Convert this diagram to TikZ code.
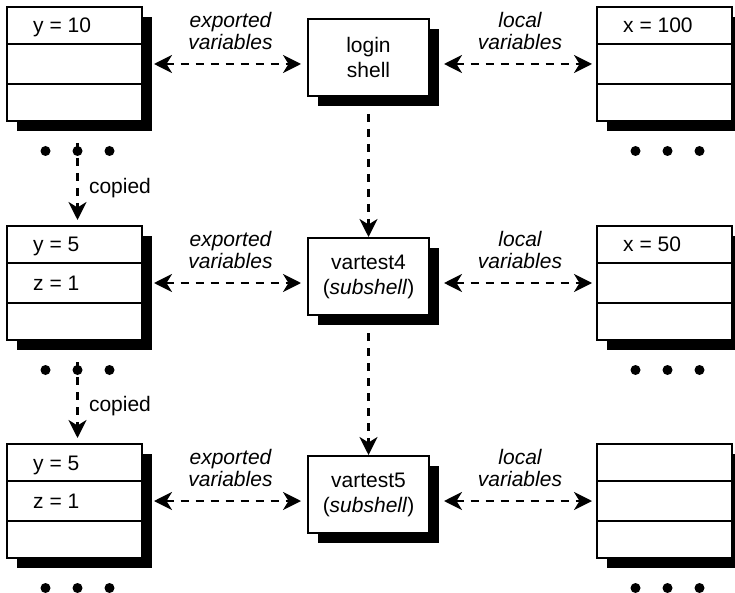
\documentclass[tikz,border=0pt]{standalone}
\usepackage{fontspec}
\setmainfont{Liberation Sans}
\usetikzlibrary{arrows.meta,shadows}

\tikzset{
  stackbox/.style={draw, line width=2pt, fill=white, inner sep=0pt,
    minimum width=135pt, minimum height=114pt,
    drop shadow={shadow xshift=10pt, shadow yshift=-10pt, fill=black, opacity=1}},
  shellbox/.style={stackbox, minimum width=121pt, minimum height=77pt, align=center,
    font=\fontsize{21}{25}\selectfont},
  rowline/.style={line width=2pt},
  rowtext/.style={anchor=base west, inner sep=0pt, font=\fontsize{21}{25}\selectfont},
  dotmark/.style={circle, fill=black, inner sep=0pt, minimum size=10pt},
  flow/.style={line width=2.4pt, dash pattern=on 8pt off 7pt},
  oneway/.style={flow, arrows={-Stealth[length=18pt,width=18pt,inset=5.5pt]}},
  twoway/.style={flow, arrows={Stealth[length=18pt,width=18pt,inset=5.5pt]-Stealth[length=18pt,width=18pt,inset=5.5pt]}},
  tag/.style={align=center, inner sep=0pt, font=\fontsize{21}{22}\selectfont\itshape}
}

\begin{document}
\begin{tikzpicture}[x=1pt,y=-1pt]
  \useasboundingbox (0,0) rectangle (735,593);

  % variable stacks
  \foreach \n/\x/\y/\ta/\tb in {exp1/74.5/64/{y = 10}/{}, exp2/74.5/283/{y = 5}/{z = 1},
      exp3/74.5/501/{y = 5}/{z = 1}, loc1/664.5/64/{x = 100}/{}, loc2/664.5/283/{x = 50}/{},
      loc3/664.5/501/{}/{}} {
    \node[stackbox] (\n) at (\x,\y) {};
    \draw[rowline] ([yshift=-38pt]\n.north west) -- ([yshift=-38pt]\n.north east);
    \draw[rowline] ([yshift=38pt]\n.south west) -- ([yshift=38pt]\n.south east);
    \node[rowtext] (\n-a) at ([xshift=27pt,yshift=-27pt]\n.north west) {\ta};
    \node[rowtext] (\n-b) at ([xshift=27pt,yshift=-65pt]\n.north west) {\tb};
    \foreach \dx/\dn in {-29/l,3/m,35/r}
      \node[dotmark] (\n-\dn) at ([xshift=\dx pt,yshift=-29pt]\n.south) {};
  }

  % shells
  \node[shellbox] (login) at (368.5,57.5) {login\\shell};
  \node[shellbox] (sub4) at (368.5,276.5) {vartest4\\(\textit{subshell})};
  \node[shellbox] (sub5) at (368.5,494.5) {vartest5\\(\textit{subshell})};

  % exported and local variables
  \foreach \e/\s/\l in {exp1/login/loc1, exp2/sub4/loc2, exp3/sub5/loc3} {
    \draw[twoway, shorten >=6pt] ([xshift=11pt]\e.east) -- (\e.east -| \s.west)
      node[tag, midway, above=13pt] {exported\\variables};
    \draw[twoway, shorten >=4pt] ([xshift=14pt]\s.east |- \l.west) -- (\l.west)
      node[tag, midway, above=13pt] {local\\variables};
  }

  % subshells
  \draw[oneway, shorten <=17pt] (login.south) -- (sub4.north);
  \draw[oneway, shorten <=17pt] (sub4.south) -- (sub5.north);

  % copies
  \draw[oneway, shorten <=-8pt, shorten >=5pt] (exp1-m.center) -- (exp1-m |- exp2.north)
    node[midway, right=7pt, font=\fontsize{21}{25}\selectfont] {copied};
  \draw[oneway, shorten <=-8pt, shorten >=5pt] (exp2-m.center) -- (exp2-m |- exp3.north)
    node[midway, right=7pt, font=\fontsize{21}{25}\selectfont] {copied};
\end{tikzpicture}
\end{document}
